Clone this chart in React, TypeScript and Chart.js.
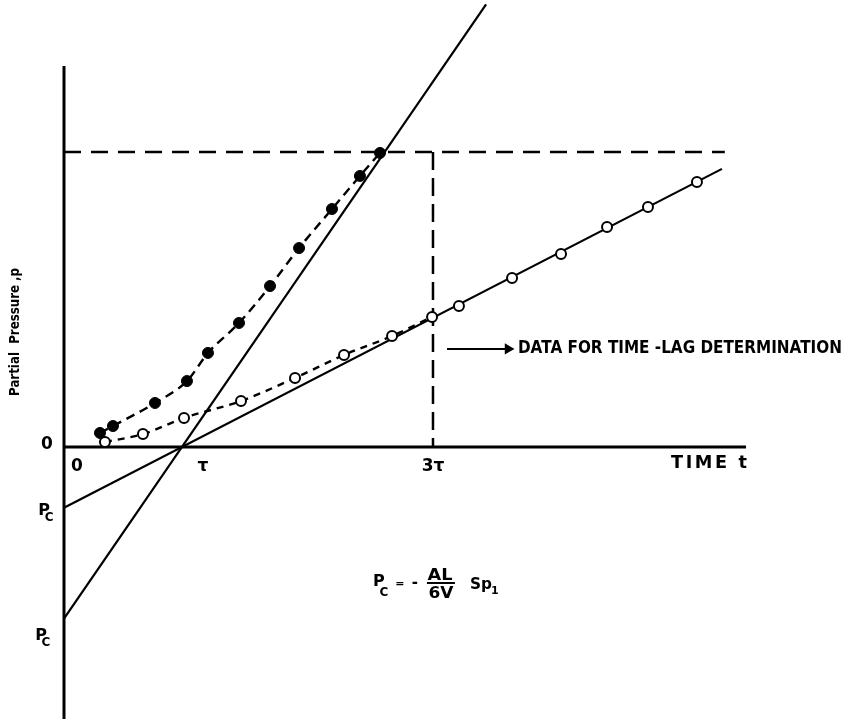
import { useEffect, useRef } from "react";
import { Chart, registerables } from "chart.js";

Chart.register(...registerables);

// Time t in units of the lag time τ, pressure p in arbitrary units.
// Filled points: early permeation run (transient build-up).
const filledT = [0.305, 0.415, 0.771, 1.042, 1.22, 1.483, 1.746, 1.992, 2.271, 2.508, 2.678];
const filledP = [0.119, 0.178, 0.373, 0.559, 0.797, 1.051, 1.364, 1.686, 2.017, 2.297, 2.492];

// Open points: run used for the time-lag determination.
const openT = [0.347, 0.669, 1.017, 1.5, 1.958, 2.373, 2.78, 3.119, 3.347, 3.797, 4.212, 4.602, 4.949, 5.364];
const openP = [0.042, 0.11, 0.246, 0.39, 0.585, 0.78, 0.941, 1.102, 1.195, 1.432, 1.636, 1.864, 2.034, 2.246];
const openTransientCount = 8; // points up to 3τ joined by the dashed curve

// Steady-state asymptotes, both crossing p = 0 at t = τ.
const steepT = [0, 3.577];
const steepP = [-1.455, 3.75];
const shallowT = [0, 5.576];
const shallowP = [-0.515, 2.357];

// Reference levels
const levelT = [0, 5.6];
const levelP = [2.5, 2.5];
const tau3T = [3.127, 3.127];
const tau3P = [2.5, 0];

// Axes
const xAxisT = [0, 5.78];
const xAxisP = [0, 0];
const yAxisT = [0, 0];
const yAxisP = [-2.525, 3.229];

// Arrow pointing at the steady-state data
const arrowT = [3.246, 3.763];
const arrowP = [0.831, 0.831];

// Visible window
const T_MIN = -0.5424;
const T_MAX = 6.7458;
const P_MIN = -2.3051;
const P_MAX = 3.7881;

const FONT = '"DejaVu Sans", "Liberation Sans", sans-serif';

type Label = {
  text: string;
  t: number;
  p: number;
  size: number;
  width?: number;
  spacing?: number;
  align?: CanvasTextAlign;
  rotate?: number;
};

const labels: Label[] = [
  { text: "0", t: -0.144, p: 0.017, size: 17 },
  { text: "0", t: 0.11, p: -0.169, size: 17 },
  { text: "τ", t: 1.178, p: -0.169, size: 17 },
  { text: "3τ", t: 3.127, p: -0.169, size: 17 },
  { text: "TIME t", t: 5.466, p: -0.144, size: 17, width: 76, spacing: 2.5 },
  { text: "DATA FOR TIME -LAG DETERMINATION", t: 3.847, p: 0.831, size: 17, width: 324, align: "left" },
  { text: "Partial  Pressure ,p", t: -0.415, p: 0.975, size: 14, width: 128, rotate: -Math.PI / 2 },
];

// P_c intercept labels
const pcLabels = [
  { t: -0.169, p: -0.542 },
  { t: -0.195, p: -1.602 },
];

// Formula anchor (centre of the leading "P")
const formulaT = 2.669;
const formulaP = -1.144;

const pts = (t: number[], p: number[]) => t.map((v, i) => ({ x: v, y: p[i] }));

function drawText(
  ctx: CanvasRenderingContext2D,
  text: string,
  x: number,
  y: number,
  size: number,
  opts: {
    width?: number;
    spacing?: number;
    align?: CanvasTextAlign;
    rotate?: number;
    baseline?: CanvasTextBaseline;
  } = {}
) {
  ctx.save();
  ctx.font = `bold ${size}px ${FONT}`;
  (ctx as any).letterSpacing = `${opts.spacing ?? 0}px`;
  ctx.fillStyle = "#000";
  ctx.textBaseline = opts.baseline ?? "middle";
  ctx.translate(x, y);
  if (opts.rotate) ctx.rotate(opts.rotate);
  const w = ctx.measureText(text).width - (opts.spacing ?? 0);
  let sx = 1;
  if (opts.width) sx = opts.width / w;
  ctx.scale(sx, 1);
  const align = opts.align ?? "center";
  ctx.textAlign = "left";
  const x0 = align === "center" ? -w / 2 : align === "right" ? -w : 0;
  ctx.fillText(text, x0, 0);
  ctx.restore();
}

const labelPlugin = {
  id: "schematicLabels",
  afterDatasetsDraw(chart: Chart) {
    const ctx = chart.ctx;
    const xs = chart.scales.x;
    const ys = chart.scales.y;
    const px = (t: number) => xs.getPixelForValue(t);
    const py = (p: number) => ys.getPixelForValue(p);

    for (const l of labels) {
      drawText(ctx, l.text, px(l.t), py(l.p), l.size, {
        width: l.width,
        spacing: l.spacing,
        align: l.align,
        rotate: l.rotate,
      });
    }

    for (const pc of pcLabels) {
      const x = px(pc.t);
      const y = py(pc.p);
      drawText(ctx, "P", x, y, 16);
      drawText(ctx, "C", x + 5, y + 7, 12);
    }

    // P_c = - (AL / 6V) S p_1
    const fx = px(formulaT);
    const fy = py(formulaP);
    drawText(ctx, "P", fx, fy, 16);
    drawText(ctx, "C", fx + 5, fy + 11, 12);
    drawText(ctx, "=", fx + 21, fy + 2, 11);
    drawText(ctx, "-", fx + 36, fy + 1, 15);
    drawText(ctx, "AL", fx + 61, fy - 6, 15, { width: 25 });
    ctx.save();
    ctx.strokeStyle = "#000";
    ctx.lineWidth = 2;
    ctx.beginPath();
    ctx.moveTo(fx + 48, fy + 1);
    ctx.lineTo(fx + 76, fy + 1);
    ctx.stroke();
    ctx.restore();
    drawText(ctx, "6V", fx + 62, fy + 12, 15, { width: 25 });
    drawText(ctx, "Sp", fx + 91, fy + 7, 16, { align: "left", baseline: "alphabetic", width: 22 });
    drawText(ctx, "1", fx + 116, fy + 9, 11);
  },
};

const solid = (data: { x: number; y: number }[], width: number, order: number) => ({
  data,
  showLine: true,
  borderColor: "#000",
  borderWidth: width,
  pointRadius: 0,
  fill: false,
  order,
});

const dashed = (
  data: { x: number; y: number }[],
  width: number,
  dash: number[],
  order: number,
  smooth = false
) => ({
  ...solid(data, width, order),
  borderDash: dash,
  tension: smooth ? 0.4 : 0,
  cubicInterpolationMode: smooth ? "monotone" : "default",
});

export default function App() {
  const ref = useRef<HTMLCanvasElement>(null);

  useEffect(() => {
    const canvas = ref.current;
    if (!canvas) return;
    const openPts = pts(openT, openP);

    const chart = new Chart(canvas, {
      type: "scatter",
      data: {
        datasets: [
          {
            data: pts(filledT, filledP),
            showLine: false,
            pointRadius: 5.5,
            pointBackgroundColor: "#000",
            pointBorderColor: "#000",
            pointBorderWidth: 1,
            order: 0,
          },
          {
            data: openPts,
            showLine: false,
            pointRadius: 5,
            pointBackgroundColor: "#fff",
            pointBorderColor: "#000",
            pointBorderWidth: 2,
            order: 0,
          },
          dashed(pts(filledT, filledP), 2.4, [9, 6], 1, true),
          dashed(openPts.slice(0, openTransientCount), 2.4, [7, 6], 1, true),
          solid(pts(steepT, steepP), 2.2, 2),
          solid(pts(shallowT, shallowP), 2.2, 2),
          dashed(pts(levelT, levelP), 2.5, [17, 10], 3),
          dashed(pts(tau3T, tau3P), 2.5, [18, 8], 3),
          solid(pts(xAxisT, xAxisP), 3, 3),
          solid(pts(yAxisT, yAxisP), 3, 3),
          {
            ...solid(pts(arrowT, arrowP), 2, 3),
            pointRadius: [0, 4.5],
            pointStyle: "triangle",
            pointRotation: 90,
            pointBackgroundColor: "#000",
            pointBorderColor: "#000",
          },
        ] as any,
      },
      options: {
        animation: false,
        responsive: false,
        devicePixelRatio: 1,
        events: [],
        layout: { padding: 0, autoPadding: false },
        plugins: {
          legend: { display: false },
          tooltip: { enabled: false },
        },
        scales: {
          x: { type: "linear", display: false, min: T_MIN, max: T_MAX },
          y: { type: "linear", display: false, min: P_MIN, max: P_MAX },
        },
      },
      plugins: [labelPlugin as any],
    });

    return () => chart.destroy();
  }, []);

  return (
    <div style={{ position: "absolute", left: 0, top: 0, width: 860, height: 719, background: "#fff" }}>
      <canvas ref={ref} width={860} height={719} style={{ display: "block" }} />
    </div>
  );
}
